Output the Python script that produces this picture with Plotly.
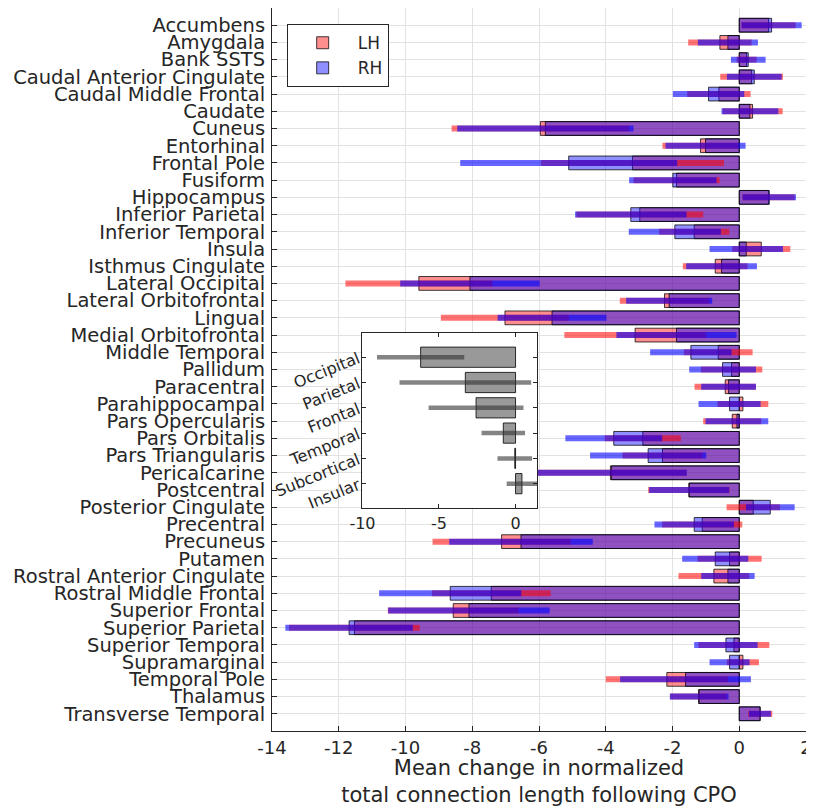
import plotly.graph_objects as go

regions = ["Accumbens", "Amygdala", "Bank SSTS", "Caudal Anterior Cingulate", "Caudal Middle Frontal",
           "Caudate", "Cuneus", "Entorhinal", "Frontal Pole", "Fusiform", "Hippocampus",
           "Inferior Parietal", "Inferior Temporal", "Insula", "Isthmus Cingulate", "Lateral Occipital",
           "Lateral Orbitofrontal", "Lingual", "Medial Orbitofrontal", "Middle Temporal", "Pallidum",
           "Paracentral", "Parahippocampal", "Pars Opercularis", "Pars Orbitalis", "Pars Triangularis",
           "Pericalcarine", "Postcentral", "Posterior Cingulate", "Precentral", "Precuneus", "Putamen",
           "Rostral Anterior Cingulate", "Rostral Middle Frontal", "Superior Frontal", "Superior Parietal",
           "Superior Temporal", "Supramarginal", "Temporal Pole", "Thalamus", "Transverse Temporal"]

lh_mean = [0.88, -0.58, 0.22, 0.37, -0.61, 0.40, -5.96, -1.16, -3.20, -1.88, 0.88,
           -2.98, -1.35, 0.66, -0.72, -9.60, -2.24, -7.02, -3.12, -0.63, -0.23,
           -0.42, 0.11, -0.21, -2.89, -2.30, -3.86, -1.51, 0.42, -1.11, -7.12, -0.29,
           -0.76, -7.43, -8.57, -11.53, -0.16, 0.11, -2.17, -1.22, 0.63]
lh_err = [0.81, 0.95, 0.30, 0.94, 0.95, 0.90, 2.66, 1.14, 2.74, 1.29, 0.78,
          1.90, 1.05, 0.87, 0.97, 2.20, 1.34, 1.92, 2.12, 1.03, 0.92,
          0.92, 0.76, 0.87, 1.14, 1.20, 2.28, 1.22, 0.80, 1.20, 2.07, 0.96,
          1.06, 1.78, 1.96, 1.96, 1.06, 0.48, 1.83, 0.85, 0.36]
rh_mean = [0.97, -0.34, 0.27, 0.45, -0.92, 0.32, -5.81, -1.01, -5.11, -1.99, 0.90,
           -3.25, -1.93, 0.21, -0.53, -8.07, -2.10, -5.61, -1.88, -1.45, -0.50,
           -0.32, -0.29, -0.07, -3.76, -2.73, -3.83, -1.50, 0.93, -1.35, -6.54, -0.72,
           -0.34, -8.66, -8.10, -11.69, -0.40, -0.29, -1.61, -1.20, 0.62]
rh_err = [0.90, 0.90, 0.52, 0.82, 1.07, 0.85, 2.64, 1.20, 3.25, 1.31, 0.80,
          1.67, 1.38, 1.10, 1.06, 2.09, 1.29, 1.63, 1.80, 1.22, 1.00,
          0.82, 0.93, 0.94, 1.45, 1.74, 2.26, 1.20, 0.73, 1.19, 2.15, 0.99,
          0.80, 2.13, 2.42, 1.91, 0.95, 0.60, 1.96, 0.88, 0.33]

lobes = ["Occipital", "Parietal", "Frontal", "Temporal", "Subcortical", "Insular"]
lobe_mean = [-6.20, -3.28, -2.58, -0.80, -0.05, 0.42]
lobe_err = [2.85, 4.30, 3.10, 1.42, 1.13, 1.00]

x_ticks = [-14, -12, -10, -8, -6, -4, -2, 0, 2]
x_ticktext = ["-14", "-12", "-10", "-8", "-6", "-4", "-2", "0", "2"]
inset_ticks = [-10, -5, 0]
inset_ticktext = ["-10", "-5", "0"]

FONT = "DejaVu Sans"
TXT = "#262626"
GRID = "#e2e2e2"


def seg(means, errs, cats):
    xs, ys = [], []
    for m, e, c in zip(means, errs, cats):
        xs += [m - e, m + e, None]
        ys += [c, c, None]
    return xs, ys


fig = go.Figure()
fig.add_trace(go.Bar(y=regions, x=lh_mean, orientation="h", name="LH", width=0.8,
                     marker=dict(color="rgba(255,0,0,0.44)", line=dict(color="rgba(0,0,0,0.75)", width=1))))
fig.add_trace(go.Bar(y=regions, x=rh_mean, orientation="h", name="RH", width=0.8,
                     marker=dict(color="rgba(0,0,255,0.44)", line=dict(color="rgba(0,0,0,0.75)", width=1))))
lx, ly = seg(lh_mean, lh_err, regions)
fig.add_trace(go.Scatter(x=lx, y=ly, mode="lines", line=dict(color="rgba(255,0,0,0.55)", width=6),
                         showlegend=False, hoverinfo="skip"))
rx, ry = seg(rh_mean, rh_err, regions)
fig.add_trace(go.Scatter(x=rx, y=ry, mode="lines", line=dict(color="rgba(0,0,255,0.6)", width=6),
                         showlegend=False, hoverinfo="skip"))

# inset
fig.add_trace(go.Bar(y=lobes, x=lobe_mean, orientation="h", width=0.8, xaxis="x2", yaxis="y2",
                     marker=dict(color="rgba(70,70,70,0.55)", line=dict(color="rgba(0,0,0,0.8)", width=1)),
                     showlegend=False))
ix, iy = seg(lobe_mean, lobe_err, lobes)
fig.add_trace(go.Scatter(x=ix, y=iy, mode="lines", xaxis="x2", yaxis="y2",
                         line=dict(color="rgba(50,50,50,0.6)", width=4.5), showlegend=False, hoverinfo="skip"))

fig.add_shape(type="rect", xref="x2", yref="y2", x0=-10, x1=1.41, y0=5.98, y1=-0.97,
              fillcolor="white", line=dict(width=0), layer="below")

# the page body adds an 8 px offset, so the figure is 8 px smaller and its margins shifted
fig.update_layout(
    width=806, height=799,
    margin=dict(l=264, r=8, t=0, b=76),
    paper_bgcolor="white", plot_bgcolor="white",
    barmode="overlay",
    font=dict(family=FONT, color=TXT, size=18),
    xaxis=dict(range=[-14, 2], tickmode="array", tickvals=x_ticks, ticktext=x_ticktext,
               ticks="inside", ticklen=5, tickcolor=TXT, ticklabelstandoff=0,
               showgrid=True, gridcolor=GRID, zeroline=False, showline=True, linecolor=TXT,
               tickfont=dict(size=18), automargin=False,
               title=dict(text="Mean change in normalized<br>total connection length following CPO",
                          font=dict(size=21), standoff=14)),
    yaxis=dict(type="category", categoryorder="array", categoryarray=regions,
               tickmode="array", tickvals=regions, ticktext=regions,
               range=[41, -1], ticks="inside", ticklen=5, tickcolor=TXT, ticklabelstandoff=2,
               showgrid=True, gridcolor=GRID, zeroline=False, showline=True, linecolor=TXT,
               tickfont=dict(size=19.5), automargin=False),
    xaxis2=dict(domain=[0.1694, 0.4965], anchor="y2", range=[-10, 1.41], tickmode="array",
                tickvals=inset_ticks, ticktext=inset_ticktext,
                ticks="inside", ticklen=4, tickcolor=TXT, showgrid=False, zeroline=False,
                showline=True, linecolor=TXT, mirror="ticks", tickfont=dict(size=16)),
    yaxis2=dict(domain=[0.3078, 0.5509], anchor="x2", type="category", categoryorder="array",
                categoryarray=lobes, tickmode="array", tickvals=lobes, ticktext=lobes,
                range=[5.98, -0.97], ticks="inside", ticklen=4, tickcolor=TXT,
                showgrid=False, zeroline=False, showline=True, linecolor=TXT, mirror="ticks",
                tickangle=-22, tickfont=dict(size=16)),
    legend=dict(x=0.0275, y=0.9776, xanchor="left", yanchor="top", bgcolor="white",
                bordercolor=TXT, borderwidth=1, font=dict(size=17), itemwidth=60),
)

fig.write_html("out.html")
